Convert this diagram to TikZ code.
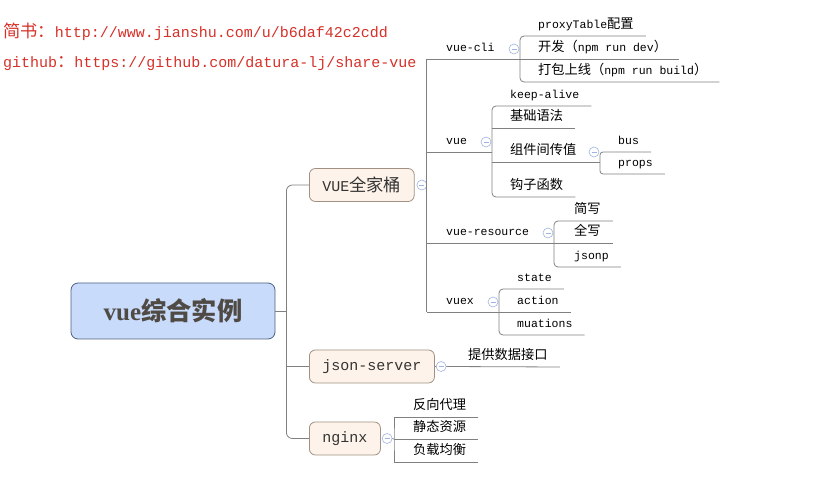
\documentclass[tikz,border=0pt]{standalone}
\usepackage{fontspec}
\setmainfont{Liberation Serif}
\newfontfamily\mono{Liberation Mono}
\newfontfamily\cjk[Scale=1.15]{Noto Sans CJK SC}
\usetikzlibrary{positioning}

\definecolor{urlred}{RGB}{214,48,40}
\definecolor{linec}{RGB}{128,128,128}
\definecolor{foldc}{RGB}{160,180,225}
\definecolor{rootfill}{RGB}{200,219,251}
\definecolor{rootline}{RGB}{80,96,128}
\definecolor{roottext}{RGB}{80,74,68}
\definecolor{famfill}{RGB}{253,243,234}
\definecolor{famline}{RGB}{160,145,130}

\begin{document}
\begin{tikzpicture}[
            x=1pt, y=-1pt,
            url/.style={
                font=\mono\fontsize{15}{18}\selectfont, text=urlred,
                anchor=base west, inner sep=0pt,
            },
            branch/.style={draw=linec, line width=0.8pt},
            leaf/.style={
                font=\mono\fontsize{11.5}{13}\selectfont, text=black,
                anchor=south west, inner xsep=0pt, inner ysep=4.5pt,
                text height=8pt, text depth=2.5pt,
            },
            topic/.style={
                rounded corners=6pt, draw=famline, fill=famfill, line width=0.8pt,
                font=\mono\fontsize{15}{18}\selectfont, text=black!80,
                anchor=west, inner xsep=13pt, minimum height=33pt,
            },
            fold/.style={
                circle, draw=foldc, fill=white, line width=0.6pt,
                minimum size=10pt, inner sep=0pt,
                path picture={\draw[foldc, line width=0.6pt]
                    ([xshift=-2.5pt]path picture bounding box.center) --
                    ([xshift=2.5pt]path picture bounding box.center);},
            },
        ]
        \useasboundingbox (0, 0) rectangle (836, 494);

        % links
        \node[url] (jianshu) at (3, 37.5) {{\cjk 简书：}http://www.jianshu.com/u/b6daf42c2cdd};
        \node[url] (github) at (3, 68) {github{\cjk ：}https://github.com/datura-lj/share-vue};

        % main topics
        \node[rounded corners=7pt, draw=rootline, fill=rootfill, line width=0.8pt,
              minimum width=204pt, minimum height=56pt, text=roottext,
              font=\fontsize{25}{30}\selectfont\bfseries]
              (root) at (173, 311) {vue{\cjk\fontsize{22}{26}\selectfont 综合实例}};

        \node[topic] (fam) at (309, 185) {VUE{\cjk 全家桶}};
        \node[topic] (json) at (309, 366.5) {json-server};
        \node[topic] (ngx) at (309, 438.5) {nginx};

        \node[fold, right=2pt of fam] (famF) {};
        \node[fold, right=1pt of json] (jsonF) {};
        \node[fold, right=1pt of ngx] (ngxF) {};

        \coordinate (trunk) at ([xshift=11pt]root.east);
        \draw[branch] (root.east) -- (trunk);
        \draw[branch, rounded corners=6pt] (fam.west) -| (trunk) |- (ngx.west);
        \draw[branch] (trunk |- json.west) -- (json.west);
        \draw[branch] (json.east) -- (jsonF.west);

        % VUE family
        \coordinate (famS) at ([xshift=5pt]famF.center);
        \coordinate (cliS) at (520, 59);
        \coordinate (vueS) at (492, 152);
        \coordinate (resS) at (554, 243);
        \coordinate (vuexS) at (499, 312);
        \coordinate (propS) at (600, 162);

        \draw[branch] (famS |- cliS) -- (famS |- vuexS);
        \draw[branch] (famS |- cliS) -- (cliS);
        \draw[branch] (famS |- vueS) -- (vueS);
        \draw[branch] (famS |- resS) -- (resS);
        \draw[branch] (famS |- vuexS) -- (vuexS);

        \node[leaf] (cli) at (446, 59) {vue-cli};
        \node[leaf] (vue) at (446, 152) {vue};
        \node[leaf] (res) at (446, 243) {vue-resource};
        \node[leaf] (vuex) at (446, 312) {vuex};

        \node[fold] (cliF) at (514, 49) {};
        \node[fold] (vueF) at (486, 142) {};
        \node[fold] (resF) at (548, 233) {};
        \node[fold] (vuexF) at (493, 302) {};

        % vue-cli
        \node[leaf] (px) at (538, 36) {proxyTable{\cjk 配置}};
        \node[leaf] (dev) at (538, 59) {{\cjk 开发（}npm run dev{\cjk ）}};
        \node[leaf] (bld) at (538, 82) {{\cjk 打包上线（}npm run build{\cjk ）}};
        \draw[branch, rounded corners=4pt] ([xshift=12pt]px.south east) -| (cliS) |- ([xshift=12pt]bld.south east);
        \draw[branch] (cliS) -- ([xshift=12pt]dev.south east);

        % vue
        \node[leaf] (ka) at (510, 106) {keep-alive};
        \node[leaf] (jc) at (510, 128) {\cjk 基础语法};
        \node[leaf] (comp) at (510, 162) {\cjk 组件间传值};
        \node[leaf] (hook) at (510, 197) {\cjk 钩子函数};
        \draw[branch, rounded corners=4pt] ([xshift=12pt]ka.south east) -| (vueS) |- ([xshift=12pt]hook.south east);
        \draw[branch] (vueS |- jc.south) -- ([xshift=12pt]jc.south east);
        \draw[branch] (vueS |- comp.south) -- (propS);

        \node[fold] (compF) at (594, 152) {};
        \node[leaf] (bus) at (618, 152) {bus};
        \node[leaf] (prp) at (618, 174) {props};
        \draw[branch, rounded corners=3pt] ([xshift=12pt]bus.south east) -| (propS) |- ([xshift=12pt]prp.south east);

        % vue-resource
        \node[leaf] (jx) at (574, 221) {\cjk 简写};
        \node[leaf] (qx) at (574, 243) {\cjk 全写};
        \node[leaf] (jsonp) at (574, 267) {jsonp};
        \draw[branch, rounded corners=4pt] ([xshift=12pt]jx.south east) -| (resS) |- ([xshift=12pt]jsonp.south east);
        \draw[branch] (resS) -- ([xshift=12pt]qx.south east);

        % vuex
        \node[leaf] (st) at (517, 289) {state};
        \node[leaf] (act) at (517, 312) {action};
        \node[leaf] (mu) at (517, 335) {muations};
        \draw[branch, rounded corners=4pt] ([xshift=12pt]st.south east) -| (vuexS) |- ([xshift=12pt]mu.south east);
        \draw[branch] (vuexS) -- ([xshift=12pt]act.south east);

        % json-server
        \node[leaf] (api) at (468, 367) {\cjk 提供数据接口};
        \draw[branch] (jsonF.east) -- ([xshift=12pt]api.south east);

        % nginx
        \coordinate (ngxS) at (394, 439);
        \node[leaf] (fx) at (413, 417) {\cjk 反向代理};
        \node[leaf] (jt) at (413, 439) {\cjk 静态资源};
        \node[leaf] (fz) at (413, 462) {\cjk 负载均衡};
        \draw[branch] (ngxF.east) -- (ngxS);
        \draw[branch] ([xshift=12pt]fx.south east) -| (ngxS) |- ([xshift=12pt]fz.south east);
        \draw[branch] (ngxS) -- ([xshift=12pt]jt.south east);
    \end{tikzpicture}
\end{document}
